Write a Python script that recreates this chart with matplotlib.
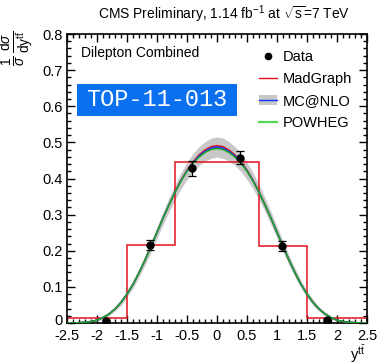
import numpy as np
import matplotlib
matplotlib.use("Agg")
import matplotlib.pyplot as plt
from matplotlib.patches import Rectangle, Patch
from matplotlib.lines import Line2D
from matplotlib.ticker import MultipleLocator, FuncFormatter
from matplotlib.transforms import ScaledTranslation

plt.rcParams['font.family'] = ['Liberation Sans', 'DejaVu Sans']
plt.rcParams['axes.unicode_minus'] = False
plt.rcParams['mathtext.fontset'] = 'custom'
plt.rcParams['mathtext.rm'] = 'Liberation Sans'
plt.rcParams['mathtext.it'] = 'Liberation Sans:italic'
plt.rcParams['mathtext.sf'] = 'Liberation Sans'

# ---- data ----
bin_edges = [-2.5, -1.5, -0.7, 0.0, 0.7, 1.5, 2.5]
hist_values = [0.013, 0.215, 0.446, 0.447, 0.214, 0.013]

data_x = [-1.85, -1.12, -0.41, 0.38, 1.09, 1.84]
data_y = [0.005, 0.217, 0.428, 0.458, 0.213, 0.008]
data_err = [0.003, 0.014, 0.020, 0.017, 0.013, 0.003]

# theory curves, sampled on |y| = 0.0 ... 2.5 (symmetric)
curve_absy = [0.0, 0.1, 0.2, 0.3, 0.4, 0.5, 0.6, 0.7, 0.8, 0.9, 1.0, 1.1, 1.2,
              1.3, 1.4, 1.5, 1.6, 1.7, 1.8, 1.9, 2.0, 2.1, 2.2, 2.3, 2.4, 2.5]
powheg = [0.483, 0.480, 0.472, 0.459, 0.442, 0.420, 0.393, 0.362, 0.327, 0.290,
          0.251, 0.212, 0.174, 0.139, 0.107, 0.080, 0.057, 0.039, 0.025, 0.015,
          0.008, 0.004, 0.002, 0.001, 0.000, 0.000]
madgraph = [0.491, 0.488, 0.479, 0.465, 0.446, 0.423, 0.395, 0.363, 0.327, 0.290,
            0.251, 0.212, 0.174, 0.139, 0.107, 0.080, 0.057, 0.039, 0.025, 0.015,
            0.008, 0.004, 0.002, 0.001, 0.000, 0.000]
mcnlo = [0.487, 0.484, 0.475, 0.462, 0.444, 0.421, 0.394, 0.362, 0.327, 0.290,
         0.251, 0.212, 0.174, 0.139, 0.107, 0.080, 0.057, 0.039, 0.025, 0.015,
         0.008, 0.004, 0.002, 0.001, 0.000, 0.000]
mcnlo_unc = [0.028, 0.028, 0.027, 0.026, 0.025, 0.024, 0.022, 0.021, 0.019, 0.018,
             0.016, 0.015, 0.013, 0.012, 0.010, 0.009, 0.008, 0.006, 0.005, 0.004,
             0.003, 0.002, 0.002, 0.001, 0.001, 0.001]

x_ticks = [-2.5, -2, -1.5, -1, -0.5, 0, 0.5, 1, 1.5, 2, 2.5]
y_ticks = [0, 0.1, 0.2, 0.3, 0.4, 0.5, 0.6, 0.7, 0.8]


def mirror(vals):
    v = list(vals)
    return np.array(v[::-1] + v[1:])


cx = np.array([-a for a in curve_absy[::-1]] + curve_absy[1:])
c_pow = mirror(powheg)
c_mad = mirror(madgraph)
c_mc = mirror(mcnlo)
c_unc = mirror(mcnlo_unc)

fig = plt.figure(figsize=(3.78, 3.64), dpi=100)
ax = fig.add_axes([67/378, 1 - 323/364, 300/378, 289/364])

band_col = '#c8c8c8'
red = '#e0141e'
blue = '#1030ff'
green = '#1fa81f'

ax.fill_between(cx, c_mc - c_unc, c_mc + c_unc, color=band_col, lw=0, zorder=1)
ax.stairs(hist_values, bin_edges, color=red, lw=1.1, zorder=2)
ax.plot(cx, c_mad, color=red, lw=1.1, zorder=3)
ax.plot(cx, c_mc, color=blue, lw=1.1, zorder=3)
ax.plot(cx, c_pow, color=green, lw=1.1, zorder=4)
ax.errorbar(data_x, data_y, yerr=data_err, fmt='o', color='black', ms=5,
            elinewidth=0.9, capsize=3.0, capthick=0.9, zorder=5)

ax.set_xlim(-2.5, 2.5)
ax.set_ylim(0, 0.8)
ax.set_xticks(x_ticks)
ax.set_yticks(y_ticks)
ax.xaxis.set_minor_locator(MultipleLocator(0.1))
ax.yaxis.set_minor_locator(MultipleLocator(0.02))
fmt = FuncFormatter(lambda v, p: ('%g' % round(v, 3)))
ax.xaxis.set_major_formatter(fmt)
ax.yaxis.set_major_formatter(fmt)
ax.tick_params(which='both', direction='in', top=True, right=True,
               width=1.0, labelsize=10.5, colors='black')
ax.tick_params(which='major', length=6.0, pad=3)
ax.tick_params(which='minor', length=3.0)
ax.tick_params(axis='x', pad=4.5)
for s in ax.spines.values():
    s.set_linewidth(1.2)

# nudge the "0" y label slightly up so it does not collide with "-2.5"
zero_lbl = ax.yaxis.get_major_ticks()[0].label1
zero_lbl.set_transform(zero_lbl.get_transform() +
                       ScaledTranslation(0, 2.5/72, fig.dpi_scale_trans))

# texts
ax.text(0.047, 0.934, 'Dilepton Combined', transform=ax.transAxes,
        fontsize=10, ha='left', va='center')
ax.add_patch(Rectangle((0.032, 0.715), 0.534, 0.112, transform=ax.transAxes,
                       facecolor='#0a70f0', edgecolor='none', zorder=6))
ax.text(0.299, 0.772, 'TOP-11-013', transform=ax.transAxes, color='white',
        fontsize=17, family='Liberation Mono', ha='center', va='center',
        zorder=7)

fig.text(350/378, 1 - 14/364,
         r'CMS Preliminary, 1.14 fb$^{-1}$ at $\sqrt{\mathrm{s}}$=7 TeV',
         ha='right', va='center', fontsize=10)
fig.text(18/378, 1 - 48/364,
         r'$\frac{1}{\sigma}\,\frac{\mathrm{d}\sigma}{\mathrm{dy}^{\mathrm{t\bar{t}}}}$',
         rotation=90, ha='center', va='center', fontsize=14)
fig.text(358/378, 1 - 354/364, r'$\mathrm{y}^{\mathrm{t\bar{t}}}$',
         ha='center', va='center', fontsize=10.5)

h_data = Line2D([], [], marker='o', color='black', ls='none', ms=4.5)
h_mad = Line2D([], [], color=red, lw=1.0)
h_mc = (Patch(facecolor=band_col, edgecolor='none'), Line2D([], [], color=blue, lw=1.0))
h_pow = Line2D([], [], color='#55d855', lw=1.6)
leg = ax.legend([h_data, h_mad, h_mc, h_pow], ['Data', 'MadGraph', 'MC@NLO', 'POWHEG'],
                loc='upper left', bbox_to_anchor=(0.62, 0.965), frameon=False,
                fontsize=10.5, handlelength=1.25, handletextpad=0.4,
                labelspacing=0.55, borderaxespad=0)

fig.savefig('out.png', dpi=100)
